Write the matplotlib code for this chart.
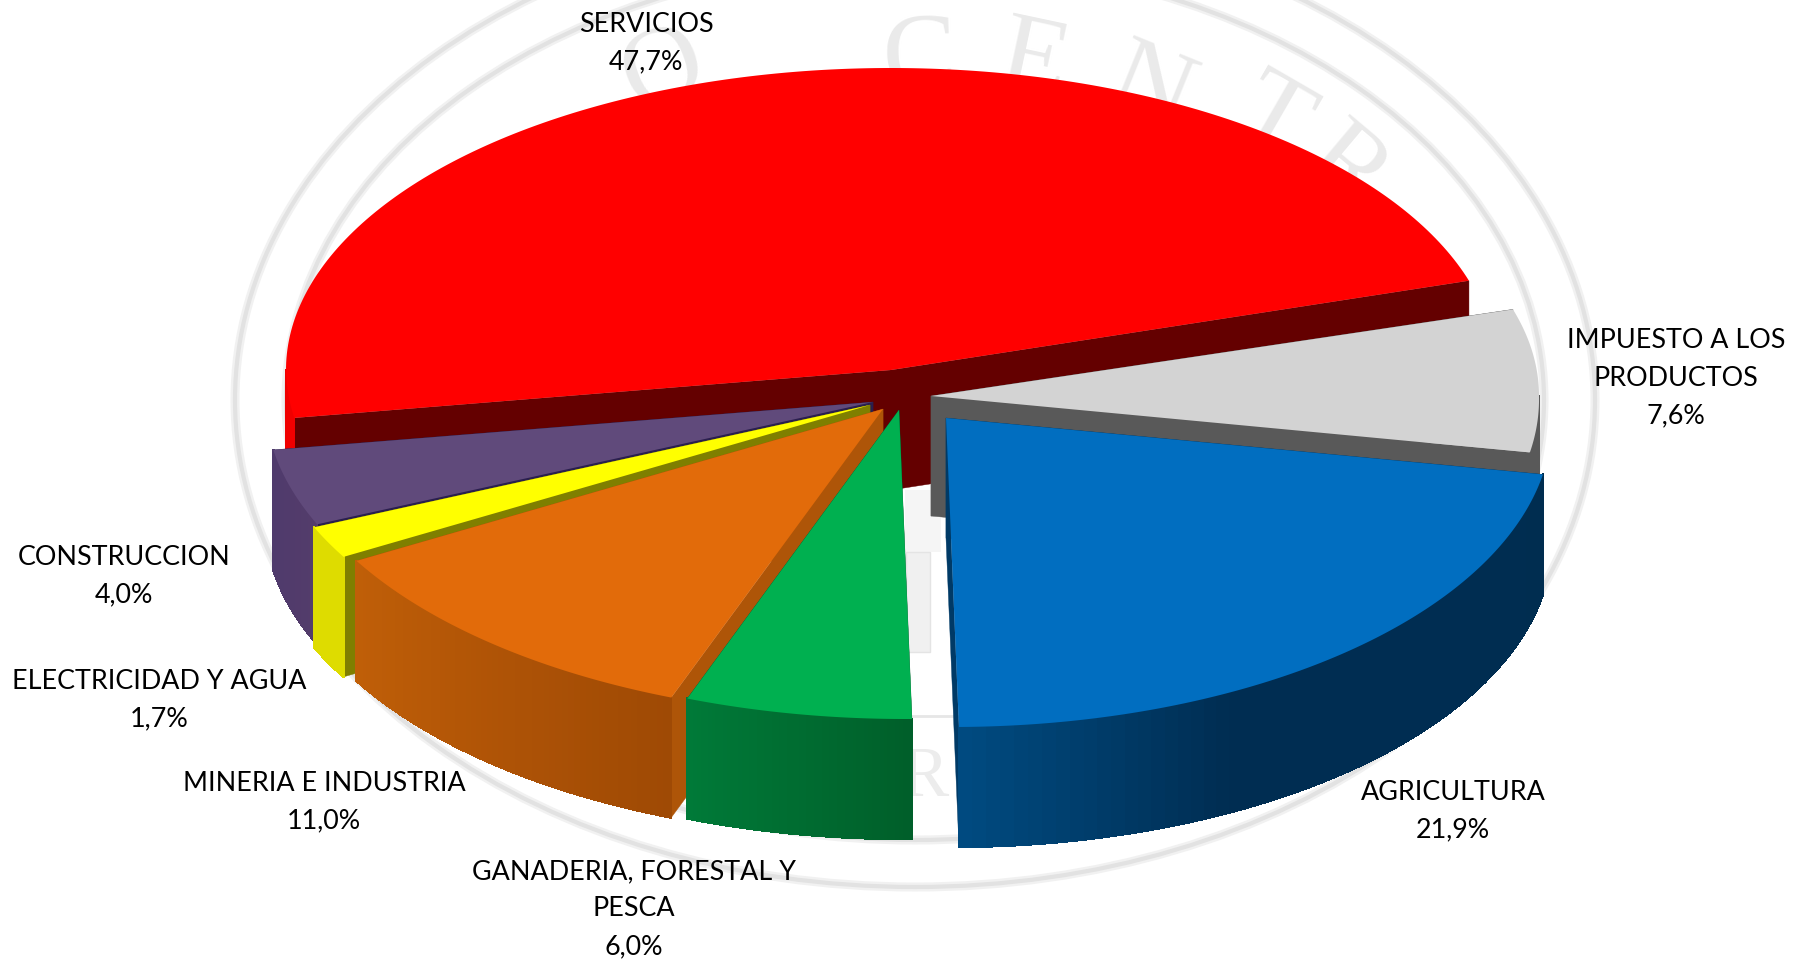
import numpy as np
import matplotlib
matplotlib.use("Agg")
import matplotlib.pyplot as plt
from matplotlib.collections import PolyCollection
from matplotlib.colors import to_rgb
from matplotlib.patches import Ellipse, Rectangle

# Datos del grafico (participacion en %)
sectores = ["SERVICIOS", "CONSTRUCCION", "ELECTRICIDAD Y AGUA", "MINERIA E INDUSTRIA",
            "GANADERIA, FORESTAL Y\nPESCA", "AGRICULTURA", "IMPUESTO A LOS\nPRODUCTOS"]
valores = [47.7, 4.0, 1.7, 11.0, 6.0, 21.9, 7.6]

# Colores: cara superior, pared radial, pared exterior (degradado)
col_top = ["#ff0000", "#604a7b", "#ffff00", "#e26b0a", "#00b050", "#016ec0", "#d3d3d3"]
col_rad = ["#640000", "#2a1f4e", "#7f7f00", "#ae5508", "#00602c", "#003a66", "#595959"]
col_ext = [("#f00000", "#f00000"), ("#4f3a6c", "#533c6b"), ("#dedc00", "#dedc00"),
           ("#c05f08", "#b05406", "#9f4a05"), ("#007a38", "#005f2a"),
           ("#004a80", "#002d52", "#002d52", "#002d50"), ("#595959", "#595959")]

# Posicion de cada porcion (despiece) y del texto, en pixeles
apex = [(891, 370), (873, 402), (870, 405), (883, 409), (899, 410), (946, 418), (931, 396)]
semi_a = [605, 608, 608, 608, 608, 606, 608]
semi_b = [302, 299, 299, 299, 299, 299, 299]
pos_txt = [(646, 43), (124, 576), (159, 700), (324, 802), (634, 909), (1453, 811), (1676, 378)]
orden = [0, 6, 1, 2, 3, 4, 5]

B_ABA = 309
PROF = 120
CIZALLA = 0.02
INICIO = 17.2

fig = plt.figure(figsize=(18.02, 9.61), dpi=100)
ax = fig.add_axes([0, 0, 1, 1])
ax.set_xlim(0, 1802)
ax.set_ylim(961, 0)
ax.axis("off")

# Marca de agua (sello)
for cx, cy, a, b in [(915, 400, 680, 487), (915, 400, 629, 440)]:
    ax.add_patch(Ellipse((cx, cy), 2 * a, 2 * b, fill=False, ec="#f1f1f1", lw=6.5, zorder=1))
    ax.add_patch(Ellipse((cx, cy), 2 * a, 2 * b, fill=False, ec="#e2e2e2", lw=3, zorder=1))
letras = [("N", 548, 178, 32), ("O", 664, 72, 20), ("C", 920, 62, 2), ("E", 1034, 64, -12),
          ("N", 1150, 92, -22), ("T", 1272, 120, -30), ("R", 1345, 172, -40)]
for t, x, y, r in letras:
    ax.text(x, y, t, family="Liberation Serif", fontsize=80, color="#eaeaea",
            rotation=r, ha="center", va="center", zorder=1)
ax.text(925, 778, "R", family="Liberation Serif", fontsize=52, color="#ececec",
        ha="center", va="center", zorder=1)
ax.add_patch(Rectangle((905, 490), 36, 62, fc="#f5f5f5", ec="none", zorder=1))
ax.add_patch(Rectangle((906, 552), 24, 100, fc="#f0f0f0", ec="#e4e4e4", lw=1, zorder=1))
ax.plot([895, 960], [716, 716], color="#e6e6e6", lw=2, zorder=1)


def borde(c, ang, a, b):
    ang = np.asarray(ang, dtype=float)
    s = np.sin(np.radians(ang))
    h = np.where(s > 0, b, B_ABA) * s
    x = c[0] + a * np.cos(np.radians(ang)) + CIZALLA * np.maximum(-h, 0)
    return x, c[1] - h


cortes = INICIO + np.concatenate([[0], np.cumsum(valores)]) * 3.6

for n, i in enumerate(orden):
    z = 2 + n
    c = apex[i]
    a, b = semi_a[i], semi_b[i]
    t1, t2 = cortes[i], cortes[i + 1]
    # paredes radiales
    for t in (t1, t2):
        x, y = borde(c, t, a, b)
        ax.fill([c[0], x, x, c[0]], [c[1], y, y + PROF, c[1] + PROF], color=col_rad[i], lw=0.3, zorder=z)
    # pared exterior, solo la parte que mira al frente
    a1, a2 = max(t1, 180), min(t2, 360)
    if a2 > a1:
        ang = np.linspace(a1, a2, 60)
        x, y = borde(c, ang, a, b)
        polys = [[(x[k], y[k]), (x[k + 1], y[k + 1]), (x[k + 1], y[k + 1] + PROF), (x[k], y[k] + PROF)]
                 for k in range(len(ang) - 1)]
        stops = np.array([to_rgb(h) for h in col_ext[i]])
        f = np.linspace(0, 1, len(polys))
        fx = np.linspace(0, 1, len(stops))
        cols = np.column_stack([np.interp(f, fx, stops[:, j]) for j in range(3)])
        ax.add_collection(PolyCollection(polys, facecolors=cols, edgecolors=cols, linewidths=1,
                                         antialiaseds=False, zorder=z))
    # cara superior
    ang = np.linspace(t1, t2, 200)
    x, y = borde(c, ang, a, b)
    ax.fill(np.r_[c[0], x], np.r_[c[1], y], color=col_top[i], lw=0, zorder=z)

# Etiquetas
for nombre, v, (x, y) in zip(sectores, valores, pos_txt):
    txt = nombre + "\n" + f"{v:.1f}".replace(".", ",") + "%"
    ax.text(x, y, txt, family="Lato", fontsize=19.4, color="black", ha="center", va="center",
            linespacing=1.62, zorder=20)

fig.savefig("out.png", dpi=100)
